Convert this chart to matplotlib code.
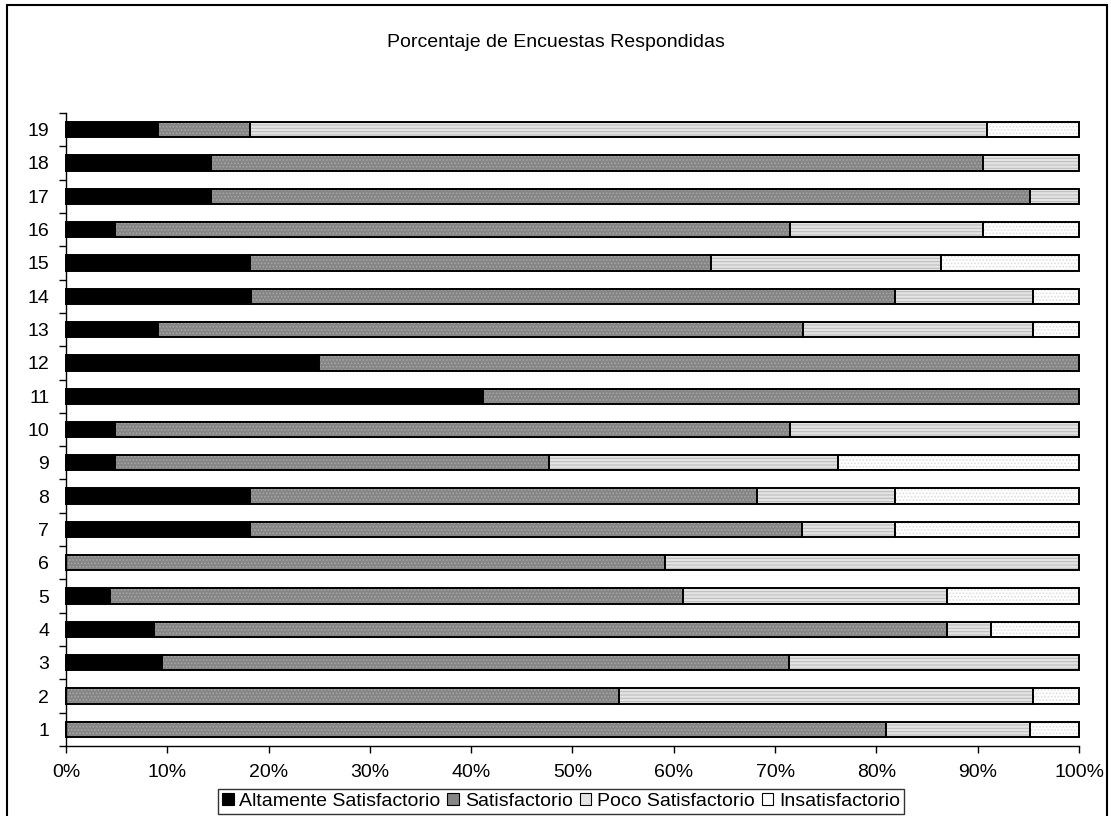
import numpy as np
import matplotlib
matplotlib.use('Agg')
import matplotlib.pyplot as plt
from matplotlib.patches import Rectangle, Patch
from matplotlib.ticker import PercentFormatter

plt.rcParams['font.family'] = ['Liberation Sans', 'DejaVu Sans']
plt.rcParams['hatch.linewidth'] = 0.8

# preguntas 1..19, porcentaje por categoria
preguntas = [str(i) for i in range(1, 20)]
altamente = [0, 0, 9.5, 8.7, 4.3, 0, 18.2, 18.2, 4.8, 4.8, 41.2, 25.0, 9.1, 18.2, 18.2, 4.8, 14.3, 14.3, 9.1]
satisf = [81.0, 54.5, 61.9, 78.3, 56.5, 59.1, 54.5, 50.0, 42.9, 66.7, 58.8, 75.0, 63.6, 63.6, 45.5, 66.7, 80.9, 76.2, 9.1]
poco = [14.3, 40.9, 28.6, 4.3, 26.1, 40.9, 9.1, 13.6, 28.6, 28.6, 0, 0, 22.7, 13.6, 22.7, 19.0, 4.8, 9.5, 72.7]
insatisf = [4.8, 4.5, 0, 8.7, 13.0, 0, 18.2, 18.2, 23.8, 0, 0, 0, 4.5, 4.5, 13.6, 9.5, 0, 0, 9.1]

series = [
    ('Altamente Satisfactorio', altamente, '#000000', None, '#000000'),
    ('Satisfactorio', satisf, '#858585', '.....', '#a5a5a5'),
    ('Poco Satisfactorio', poco, '#e4e4e4', '-----', '#bdbdbd'),
    ('Insatisfactorio', insatisf, '#ffffff', '.....', '#dedede'),
]

# 100% apilado: normalizar cada fila
total = np.sum([np.array(s[1], dtype=float) for s in series], axis=0)

fig = plt.figure(figsize=(11.11, 8.16), dpi=100)
ax = fig.add_axes([0.0594, 0.0858, 0.9118, 0.7757])

y = np.arange(1, 20)
left = np.zeros(19)
h = 0.46
handles = []
for name, vals, fc, hatch, hc in series:
    vals = np.array(vals, dtype=float) / total * 100
    ax.barh(y, vals, left=left, height=h, color=fc, edgecolor='none', lw=0)
    if hatch:
        ax.barh(y, vals, left=left, height=h, color='none', edgecolor=hc,
                hatch=hatch, lw=0)
    bars = ax.barh(y, vals, left=left, height=h, color='none', edgecolor='black', lw=1.4)
    for b in bars:
        if b.get_width() > 0:
            b.set_clip_on(False)
        else:
            b.set_visible(False)
    left += vals
    handles.append(Patch(facecolor=fc, edgecolor='black', lw=0.8))

ax.set_xlim(0, 100)
ax.set_ylim(0.5, 19.5)
ax.set_xticks(np.arange(0, 101, 10))
ax.xaxis.set_major_formatter(PercentFormatter(decimals=0))
ax.set_yticks(y)
ax.set_yticklabels(preguntas)
ax.set_yticks(np.arange(0.5, 20, 1), minor=True)
ax.tick_params(axis='y', which='major', length=0, labelsize=14, pad=12)
ax.tick_params(axis='y', which='minor', length=5, width=1)
ax.tick_params(axis='x', length=5, width=1, labelsize=14, pad=8)
for s in ['top', 'right']:
    ax.spines[s].set_visible(False)
for s in ['left', 'bottom']:
    ax.spines[s].set_linewidth(1)

fig.text(0.5, 0.948, 'Porcentaje de Encuestas Respondidas', ha='center', va='center', fontsize=14)

leg = fig.legend(handles, [s[0] for s in series], loc='upper center',
                 bbox_to_anchor=(0.505, 0.033), ncol=4, frameon=True, fancybox=False,
                 fontsize=14, handlelength=0.6, handleheight=0.6, handletextpad=0.3,
                 columnspacing=0.35, borderpad=0.2, borderaxespad=0)
leg.get_frame().set_edgecolor('black')
leg.get_frame().set_linewidth(1)

fig.patches.append(Rectangle((0.006, -0.02), 0.99, 1.014, transform=fig.transFigure,
                             fill=False, edgecolor='black', lw=1.5))

fig.savefig('out.png', dpi=100)
